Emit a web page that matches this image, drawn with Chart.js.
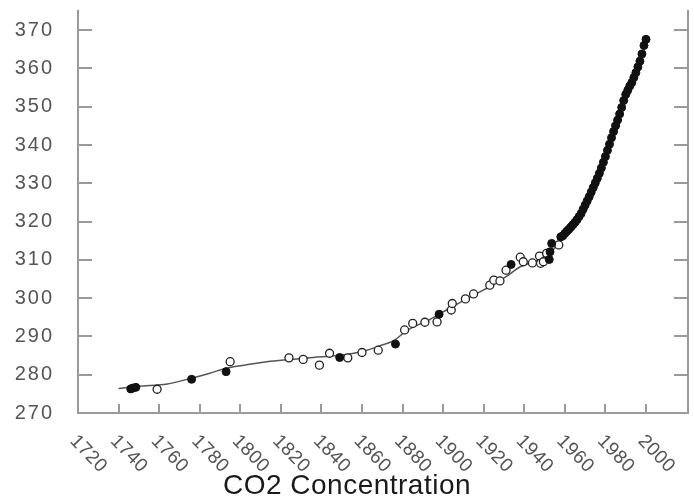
<!DOCTYPE html>
<html>
<head>
<meta charset="utf-8">
<script src="https://cdn.jsdelivr.net/npm/chart.js@4.4.1/dist/chart.umd.min.js"></script>
<style>
  html, body { margin: 0; padding: 0; background: #fff; }
  #wrap { width: 694px; height: 503px; }
</style>
</head>
<body>
<div id="wrap"><canvas id="chart"></canvas></div>
<script>
// smooth ice-core fit
const curveYears  = [1740, 1750, 1764, 1776, 1785, 1793, 1802, 1813, 1825, 1836, 1848, 1856, 1862, 1869, 1876, 1882, 1893, 1903, 1915, 1923, 1931, 1938, 1946, 1953, 1959];
const curveValues = [276.4, 277.0, 277.6, 279.1, 280.4, 281.7, 282.5, 283.4, 284.0, 284.5, 285.0, 285.6, 286.3, 287.6, 289.0, 291.5, 294.3, 297.3, 300.8, 303.0, 305.6, 308.2, 309.8, 312.0, 315.5];

// open circles
const openYears  = [1759, 1795, 1824, 1831, 1839, 1844, 1853, 1860, 1868, 1881, 1885, 1891, 1897, 1904, 1904.5, 1911, 1915, 1923, 1925, 1928, 1931, 1938, 1939.5, 1944, 1947.5, 1948, 1949.4, 1951, 1957];
const openValues = [276.2, 283.4, 284.4, 284.0, 282.5, 285.6, 284.4, 285.8, 286.4, 291.7, 293.4, 293.7, 293.8, 296.9, 298.6, 299.8, 301.1, 303.4, 304.7, 304.5, 307.3, 310.7, 309.5, 309.2, 311.0, 309.1, 309.5, 311.7, 313.9];

// filled circles: ice core samples, then the atmospheric record
const filledYears  = [1746, 1747, 1748.5, 1776, 1793, 1849, 1876.5, 1898, 1933.5, 1952.3, 1952.7, 1953.5,
  1958, 1959, 1960, 1961, 1962, 1963, 1964, 1965, 1966, 1967, 1968, 1969, 1970, 1971, 1972, 1973, 1974, 1975, 1976, 1977, 1978, 1979,
  1980, 1981, 1982, 1983, 1984, 1985, 1986, 1987, 1988, 1989, 1990, 1991, 1992, 1993, 1994, 1995, 1996, 1997, 1998, 1999, 2000];
const filledValues = [276.3, 276.5, 276.7, 278.8, 280.8, 284.5, 288.0, 295.8, 308.8, 310.1, 312.1, 314.3,
  316.0, 316.3, 316.9, 317.5, 318.0, 318.6, 319.2, 319.8, 320.5, 321.3, 322.1, 323.2, 324.3, 325.4, 326.5, 327.7, 328.9, 330.1, 331.3, 332.6, 334.0, 335.5,
  337.0, 338.6, 340.2, 341.9, 343.5, 345.0, 346.5, 348.1, 349.8, 351.6, 353.2, 354.3, 355.4, 356.3, 357.6, 358.9, 360.4, 361.9, 363.8, 366.0, 367.6];

const xTickValues = [1720, 1740, 1760, 1780, 1800, 1820, 1840, 1860, 1880, 1900, 1920, 1940, 1960, 1980, 2000];
const xTickLabels = xTickValues.map(String);

const toPoints = (xs, ys) => xs.map((x, i) => ({ x, y: ys[i] }));

const FONT = '"Liberation Sans", Arial, Helvetica, sans-serif';
const AXIS = '#9a9a9a';

// rotated year labels, reading downwards from each tick;
// y labels are drawn after the datasets with a little letter spacing
const xLabelPlugin = {
  id: 'xLabels',
  beforeDraw(chart) {
    chart.ctx.letterSpacing = '0.5px';
  },
  afterDatasetsDraw(chart) {
    chart.ctx.letterSpacing = '2px';
  },
  afterDraw(chart) {
    const { ctx, scales: { x } } = chart;
    ctx.save();
    ctx.letterSpacing = '0.5px';
    ctx.font = '19px ' + FONT;
    ctx.fillStyle = '#555';
    ctx.textAlign = 'left';
    ctx.textBaseline = 'middle';
    xTickValues.forEach((v, i) => {
      const px = x.getPixelForValue(v);
      ctx.save();
      ctx.translate(px - 5, x.top + 25);
      ctx.rotate(Math.PI * 46 / 180);
      ctx.fillText(xTickLabels[i], 0, 0);
      ctx.restore();
    });
    ctx.restore();
  }
};

new Chart(document.getElementById('chart'), {
  type: 'scatter',
  data: {
    datasets: [
      {
        type: 'line',
        data: toPoints(curveYears, curveValues),
        borderColor: '#555',
        borderWidth: 1.5,
        pointRadius: 0,
        cubicInterpolationMode: 'monotone',
        fill: false,
        order: 3
      },
      {
        data: toPoints(openYears, openValues),
        pointRadius: 4,
        backgroundColor: '#fff',
        borderColor: '#222',
        borderWidth: 1.3,
        order: 2
      },
      {
        data: toPoints(filledYears, filledValues),
        pointRadius: 4,
        backgroundColor: '#111',
        borderColor: '#111',
        borderWidth: 1,
        order: 1
      }
    ]
  },
  options: {
    responsive: true,
    maintainAspectRatio: false,
    animation: false,
    layout: { autoPadding: false, padding: { top: 11, right: 0, bottom: 0, left: 0 } },
    plugins: {
      legend: { display: false },
      tooltip: { enabled: false },
      title: {
        display: true,
        position: 'bottom',
        text: 'CO2 Concentration',
        color: '#1a1a1a',
        font: { family: FONT, size: 28, weight: 'normal' },
        padding: { top: 0, bottom: 0 }
      }
    },
    scales: {
      x: {
        type: 'linear',
        min: 1720,
        max: 2020.7,
        afterBuildTicks: (s) => { s.ticks = s.ticks.filter(t => t.value <= 2000); },
        afterFit: (s) => { s.height = 56.4; },
        ticks: { display: false, stepSize: 20, includeBounds: false },
        grid: { drawOnChartArea: false, tickLength: -9, color: AXIS, lineWidth: 2 },
        border: { color: AXIS, width: 2 }
      },
      y: {
        min: 270,
        max: 375,
        afterFit: (s) => { s.width = 78; s.paddingTop = 0; s.paddingBottom = 0; },
        ticks: {
          z: 1,
          stepSize: 10,
          includeBounds: false,
          padding: 38,
          color: '#555',
          font: { family: FONT, size: 20 }
        },
        grid: { drawOnChartArea: false, tickLength: -14, color: AXIS, lineWidth: 2 },
        border: { color: AXIS, width: 2 }
      },
      y2: {
        position: 'right',
        min: 270,
        max: 375,
        afterFit: (s) => { s.width = 6; s.paddingTop = 0; s.paddingBottom = 0; },
        ticks: { display: false, stepSize: 10, includeBounds: false },
        grid: { drawOnChartArea: false, tickLength: -14, color: AXIS, lineWidth: 2 },
        border: { color: AXIS, width: 2 }
      }
    }
  },
  plugins: [xLabelPlugin]
});
</script>
</body>
</html>
